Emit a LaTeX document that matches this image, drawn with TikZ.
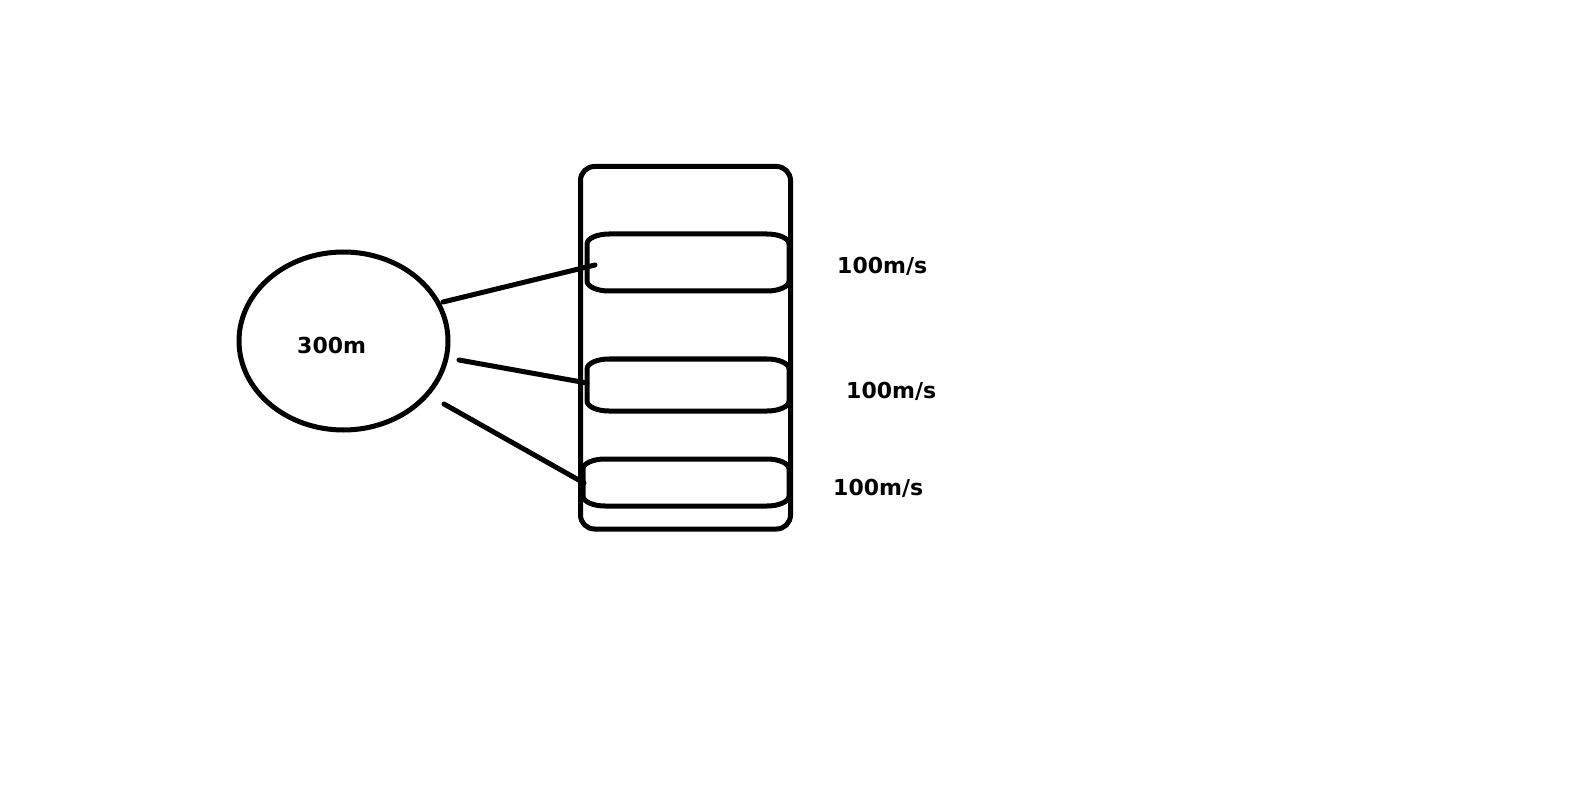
\documentclass[tikz,border=0pt]{standalone}
\usepackage{fontspec}
\setsansfont{DejaVu Sans}
\usetikzlibrary{shapes.geometric}
\tikzset{
  stroke/.style={line width=5pt, black, line cap=round, line join=round},
  lbl/.style={font=\sffamily\bfseries\fontsize{22}{26}\selectfont, inner sep=0pt, anchor=base west},
}
\newcommand\innerbox[4]{% left, top, right, bottom (y grows downward)
  \draw[stroke] (#1+22,#2) -- (#3-22,#2)
    arc[start angle=-90,end angle=0,x radius=22,y radius=10] -- (#3,#4-10)
    arc[start angle=0,end angle=90,x radius=22,y radius=10] -- (#1+22,#4)
    arc[start angle=90,end angle=180,x radius=22,y radius=10] -- (#1,#2+10)
    arc[start angle=180,end angle=270,x radius=22,y radius=10] -- cycle;}
\begin{document}
\begin{tikzpicture}[x=1pt,y=-1pt]
\useasboundingbox (0,0) rectangle (1596,786);
% source ellipse
\node[stroke, draw, ellipse, minimum width=209pt, minimum height=178pt, inner sep=0pt] (src) at (343.5,341) {};
\node[lbl] (srclbl) at (297,354) {300m};
% outer container
\draw[stroke, rounded corners=14pt] (580.5,166.5) rectangle (790.5,529);
% inner boxes
\innerbox{587}{234}{789}{291}
\innerbox{587}{359}{789}{411}
\innerbox{583}{459}{789}{506}
% connector end points
\coordinate (a1) at (443,302);
\coordinate (b1) at (595,265);
\coordinate (a2) at (459,360);
\coordinate (b2) at (587,383);
\coordinate (a3) at (444,404);
\coordinate (b3) at (584,483);
\draw[stroke] (a1) -- (b1);
\draw[stroke] (a2) -- (b2);
\draw[stroke] (a3) -- (b3);
% labels
\node[lbl] (v1) at (837,274) {100m/s};
\node[lbl] (v2) at (846,398) {100m/s};
\node[lbl] (v3) at (833,495) {100m/s};
\end{tikzpicture}
\end{document}
